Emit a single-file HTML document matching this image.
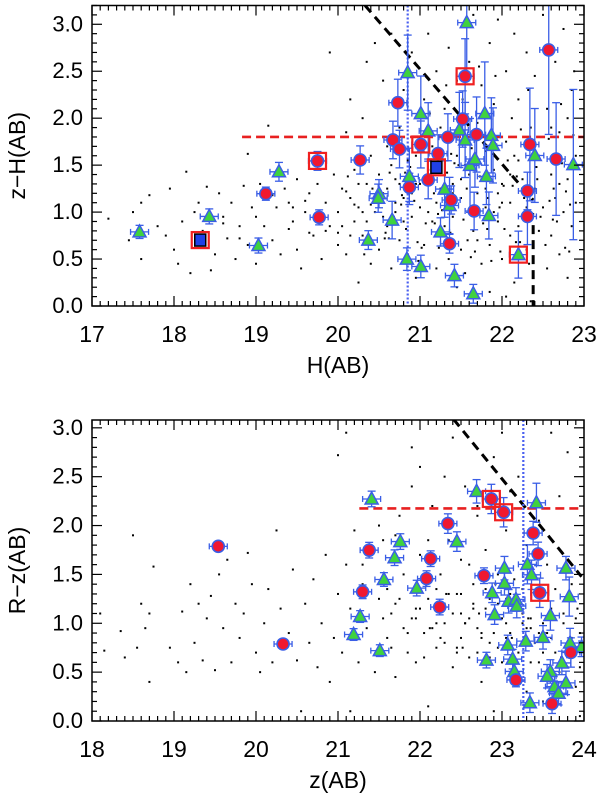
<!DOCTYPE html>
<html><head><meta charset="utf-8"><style>
html,body{margin:0;padding:0;background:#fff;}
svg text{font-family:"Liberation Sans","DejaVu Sans",sans-serif;fill:#000;}
</style></head><body>
<svg id="chart" width="600" height="793" viewBox="0 0 600 793" xmlns="http://www.w3.org/2000/svg">
<g id="top"></g>
<g id="bot"></g>
</svg>
<script>
// ---------- TOP PANEL DATA: H(AB) vs z-H(AB) ----------
const topXTicks = [17,18,19,20,21,22,23];
const topYTicks = [0.0,0.5,1.0,1.5,2.0,2.5,3.0];
const topDotsX = [17.2,17.45,17.5,17.6,17.6,17.7,17.8,17.9,17.95,18.0,18.05,18.1,18.15,18.2,18.25,18.3,18.35,18.4,18.45,18.5,18.55,18.6,18.65,18.7,18.75,18.8,18.85,18.9,18.9,18.95,19.0,19.05,19.1,19.15,19.2,19.25,19.3,19.35,19.4,19.45,19.5,19.5,19.55,19.6,19.65,19.7,19.75,19.8,19.85,19.9,19.9,19.95,20.0,20.0,20.05,20.1,20.1,20.15,20.15,20.2,20.2,20.25,20.25,20.3,20.3,20.35,20.35,20.4,20.4,20.45,20.45,20.5,20.5,20.55,20.55,20.6,20.6,20.65,20.65,20.7,20.7,20.75,20.75,20.8,20.8,20.85,20.85,20.9,20.9,20.95,20.95,21.0,21.0,21.05,21.05,21.1,21.1,21.15,21.15,21.2,21.2,21.25,21.25,21.3,21.3,21.35,21.35,21.4,21.4,21.45,21.45,21.5,21.5,21.55,21.55,21.6,21.6,21.65,21.65,21.7,21.7,21.75,21.75,21.8,21.8,21.85,21.85,21.9,21.9,21.95,21.95,22.0,22.0,22.05,22.05,22.1,22.1,22.15,22.15,22.2,22.2,22.25,22.25,22.3,22.3,22.35,22.35,22.4,22.4,22.45,22.45,22.5,22.5,22.55,22.55,22.6,22.6,22.65,22.65,22.7,22.7,22.75,22.75,22.8,22.8,22.85,22.85,22.9,22.9,20.6,20.7,20.8,20.9,21.0,21.1,21.2,21.3,21.4,21.5,21.6,21.7,21.8,21.9,22.0,22.1,22.2,22.3,20.65,20.75,20.95,21.15,21.35,21.55,21.75,21.95,22.15,20.55,20.45,20.35,20.25,20.15,20.05,21.25,21.45,21.85,22.05,22.6,22.8,22.7,20.62,20.82,21.02,21.22,21.42,21.62,21.82,22.02,22.22,22.42,22.62,22.82,20.4,20.58,20.78,20.98,21.18,21.38,21.58,21.78,21.98,22.18,22.38,22.58,22.78,19.85,19.65,19.45,20.1,20.3];
const topDotsY = [0.93,0.70,1.0,0.50,1.1,1.18,0.85,0.75,1.25,0.60,0.45,0.9,1.43,0.35,1.0,1.1,0.8,1.27,0.38,0.55,1.2,0.95,0.72,1.1,0.5,0.85,1.28,1.62,0.65,1.05,0.45,1.3,0.85,1.92,0.7,1.05,0.55,1.25,1.1,0.9,0.6,1.35,0.4,1.0,1.2,0.75,1.3,0.5,1.1,2.7,0.85,1.4,1.0,0.65,1.25,1.85,0.55,1.15,2.2,0.9,1.45,0.25,1.05,2.0,0.75,1.3,2.6,1.6,0.45,2.8,1.0,1.4,0.6,2.4,1.2,0.85,1.7,2.9,0.4,1.35,1.0,0.7,1.9,2.3,1.15,0.55,1.55,2.7,0.95,1.3,0.3,1.8,1.05,2.2,0.65,1.45,2.9,0.9,1.7,0.4,2.5,1.25,0.75,2.1,1.55,0.5,2.75,1.3,0.95,2.4,1.6,0.6,1.15,2.0,0.35,2.6,1.4,0.8,3.1,1.2,1.95,0.45,2.35,1.05,1.65,2.8,0.65,1.45,2.15,0.9,3.05,1.3,0.5,2.5,1.75,0.75,1.1,2.9,0.25,1.55,2.2,0.95,1.35,2.7,0.6,1.9,0.05,1.25,2.45,0.8,1.6,3.1,1.05,0.4,2.1,1.4,0.75,2.6,1.15,0.55,1.85,2.95,1.0,1.35,0.3,2.3,0.85,1.6,1.1,1.25,1.1,0.9,1.2,1.3,1.0,1.1,0.85,1.2,1.35,1.0,0.7,1.25,1.0,1.1,1.4,0.85,1.05,1.5,1.3,1.6,1.35,1.05,1.5,1.35,1.2,1.6,0.95,1.15,0.9,1.3,0.75,0.85,1.9,0.2,0.15,0.1,1.9,2.0,1.3,0.72,1.42,0.62,0.98,1.52,0.52,0.82,1.28,0.68,1.48,0.92,0.58,1.08,0.78,1.18,0.48,0.88,1.62,0.7,1.72,0.58,1.38,0.98,1.12,1.22,0.8,0.78,1.05,1.22,1.0];
const topDots2X = [20.52,20.57,20.63,20.68,20.72,20.77,20.83,20.88,20.93,20.97,21.03,21.07,21.13,21.17,21.23,21.27,21.33,21.37,21.43,21.47,21.53,21.57,21.63,21.67,21.73,21.77,21.83,21.87,21.93,21.97,22.03,22.07,22.13,22.17,22.23,22.27,22.33,22.37,22.43,22.47,22.53,22.57,22.63,22.67,22.73,22.77,22.83,22.87,20.2,20.0,19.8,19.6,19.4,19.2,19.0,18.8,18.6,20.42,20.32,20.12,21.12,21.32,21.52,21.72,21.92,22.12,22.32,22.52,22.72,22.88];
const topDots2Y = [1.18,0.72,1.42,0.95,1.62,1.08,0.82,1.48,1.12,0.68,1.35,0.88,1.55,1.2,0.62,1.02,1.42,0.78,1.12,1.5,0.92,1.25,1.68,0.58,1.38,0.88,1.15,0.48,1.72,1.05,0.82,1.55,1.28,0.68,1.88,1.15,0.45,1.62,1.35,0.95,0.65,1.78,1.25,0.9,1.52,0.62,1.08,1.82,1.08,0.78,0.95,1.12,0.82,1.18,0.95,0.72,0.88,1.25,0.55,1.38,2.05,2.35,2.2,2.55,2.45,2.0,2.3,2.75,2.15,2.5];
const topCircX = [20.73,20.67,20.75,20.87,21.01,21.10,21.22,21.34,21.38,21.36,21.52,21.55,21.69,21.66,22.31,22.34,22.31,22.57,22.66,19.75,19.12,19.77,20.27];
const topCircY = [2.165,1.768,1.671,1.264,1.72,1.342,1.623,1.797,1.129,0.663,1.991,2.446,1.826,1.012,1.225,1.72,0.954,2.727,1.565,1.545,1.196,0.944,1.555];
const topCircErr = [0.25,0.2,0.2,0.15,0.25,0.2,0.2,0.25,0.15,0.1,0.3,0.4,0.4,0.2,0.2,0.6,0.3,0.9,0.6,0.1,0.07,0.08,0.15];
const topTriX = [17.58,18.43,19.03,19.28,20.50,20.49,20.37,20.66,20.85,20.87,20.84,21.01,21.01,21.10,21.25,21.30,21.36,21.42,21.48,21.55,21.57,21.61,21.67,21.65,21.79,21.81,21.84,21.87,21.89,22.20,22.40,22.87];
const topTriY = [0.789,0.954,0.644,1.429,1.196,1.148,0.702,0.915,2.485,1.38,0.499,0.421,2.049,1.865,0.789,1.245,1.07,0.324,1.875,1.768,3.018,1.497,1.565,0.13,2.049,1.38,0.964,1.817,1.71,0.547,1.603,1.506];
const topTriErr = [0.07,0.08,0.08,0.1,0.15,0.15,0.1,0.2,0.4,0.3,0.12,0.12,0.4,0.3,0.15,0.3,0.3,0.12,0.4,0.4,0.6,0.5,0.3,0.1,0.55,0.3,0.25,0.4,0.4,0.25,0.5,0.8];
const topBlueSqX = [18.32,21.20];
const topBlueSqY = [0.702,1.477];
const topRedBoxX = [18.32,19.75,21.01,21.20,21.55,22.20];
const topRedBoxY = [0.702,1.545,1.72,1.477,2.446,0.547];
const topCutLine = [[20.33,3.2],[22.38,1.128]];
const topCutVertX = 22.38;
const topColorCut = 1.80, topColorCutStart = 18.83;
const topMagLimit = 20.85;

// ---------- BOTTOM PANEL DATA: z(AB) vs R-z(AB) ----------
const botXTicks = [18,19,20,21,22,23,24];
const botYTicks = [0.0,0.5,1.0,1.5,2.0,2.5,3.0];
const botDotsX = [18.1,18.15,18.35,18.4,18.5,18.55,18.6,18.65,18.7,18.7,18.75,18.95,19.05,19.1,19.15,19.2,19.25,19.3,19.35,19.4,19.45,19.5,19.55,19.6,19.65,19.7,19.75,19.8,19.85,19.9,19.95,20.0,20.05,20.1,20.15,20.2,20.25,20.3,20.4,20.45,20.5,20.55,20.6,20.65,20.7,20.75,20.8,20.85,20.9,20.95,21.0,21.0,21.05,21.1,21.1,21.15,21.15,21.2,21.25,21.3,21.35,21.4,21.45,21.5,21.55,21.6,21.65,21.7,21.75,21.8,21.85,21.9,21.9,21.95,22.0,22.0,22.05,22.1,22.1,22.15,22.2,22.25,22.3,22.35,22.4,22.4,22.45,22.5,22.5,22.55,22.6,22.6,22.65,22.7,22.7,22.75,22.8,22.8,22.85,22.9,22.9,22.95,23.0,23.0,23.05,23.05,23.1,23.15,23.2,23.2,23.25,23.3,23.3,23.35,23.4,23.45,23.45,23.5,23.5,23.55,23.6,23.6,23.65,23.7,23.7,23.75,23.8,23.8,23.85,23.9,23.9,23.95,23.95,22.2,22.3,22.5,22.6,22.8,23.0,23.1,23.2,23.3,23.4,23.5,22.0,22.4,22.7,22.9,23.1,23.6,23.8,21.6,21.8,22.2,22.3,22.55,22.75,22.95,23.15,23.35,23.55,23.75,21.7,21.95,22.15,22.45,22.65,22.85,23.05,23.25];
const botDotsY = [1.1,0.72,0.92,0.65,1.9,0.75,1.2,0.95,1.1,0.4,1.58,0.75,0.6,1.12,0.5,1.4,0.8,1.2,0.62,1.05,1.28,0.52,1.5,0.95,1.65,0.6,1.2,0.85,1.1,1.72,1.4,0.7,0.5,1.0,1.35,0.6,1.95,1.15,0.9,1.55,0.62,0.1,1.2,0.8,1.45,0.55,1.0,1.7,0.4,0.85,1.3,2.72,0.7,1.6,2.95,0.1,1.15,1.95,0.6,1.4,0.95,2.3,0.5,1.25,1.85,0.85,1.1,0.45,2.1,1.5,0.7,2.8,1.05,0.6,1.7,2.6,0.9,1.25,0.15,2.2,0.75,1.5,1.0,1.85,0.55,2.9,1.3,0.85,1.1,2.4,1.6,0.65,1.2,0.95,2.1,0.4,1.35,1.75,0.8,1.05,0.1,1.5,2.95,0.6,1.25,1.95,0.9,1.45,0.7,2.5,1.1,0.3,1.8,0.95,1.3,0.6,2.05,1.0,0.2,1.6,0.85,2.95,1.35,0.5,2.3,1.1,0.75,2.75,1.4,0.35,1.05,0.9,0.05,1.0,1.2,1.3,1.05,1.15,1.05,0.75,1.2,0.95,0.8,0.7,1.15,1.1,0.7,0.9,1.3,1.15,0.55,1.35,0.95,1.35,0.8,1.0,0.85,1.2,0.65,1.05,0.9,0.6,1.2,1.05,0.95,0.75,1.15,0.65,0.85,1.0];
const botDots2X = [21.55,21.65,21.75,21.85,21.95,22.05,22.15,22.25,22.35,22.45,22.55,22.65,22.75,22.85,22.95,23.05,23.15,23.25,23.35,23.45,23.55,23.65,23.75,23.85,23.95,22.12,22.32,22.52,22.72,22.92,23.12,23.32,23.52,23.72,23.92,21.3,21.5,21.7,21.9,22.1,22.3,22.5,22.7,22.9,23.1];
const botDots2Y = [1.05,0.75,1.25,0.9,1.15,0.65,1.45,0.85,1.3,0.7,1.0,1.4,0.9,1.25,0.75,1.0,0.55,1.35,0.6,0.9,0.45,0.7,1.0,0.85,0.55,0.95,1.3,0.75,1.1,1.4,0.85,1.05,0.9,0.65,1.15,1.6,2.0,1.9,2.4,1.85,2.5,1.65,2.2,2.7,2.35];
const botCircX = [19.54,20.33,21.30,21.38,22.08,22.13,22.24,22.34,22.78,22.87,23.02,23.17,23.38,23.44,23.46,23.61,23.84];
const botCircY = [1.787,0.788,1.322,1.748,1.457,1.661,1.166,2.02,1.487,2.272,2.136,0.42,1.923,1.71,1.312,0.177,0.701];
const botCircErr = [0.04,0.05,0.07,0.08,0.08,0.08,0.08,0.1,0.08,0.15,0.15,0.07,0.12,0.12,0.15,0.1,0.15];
const botTriX = [21.41,21.19,21.27,21.51,21.56,21.69,21.76,21.96,22.45,22.69,22.81,22.88,22.91,23.03,23.03,23.08,23.07,23.13,23.15,23.17,23.18,23.29,23.34,23.31,23.36,23.42,23.50,23.59,23.59,23.64,23.69,23.73,23.78,23.83,23.78,23.82,23.97,23.55];
const botTriY = [2.272,0.885,1.069,0.72,1.448,1.671,1.836,1.36,1.836,2.35,0.623,1.312,1.089,1.564,1.409,1.225,0.778,0.633,0.507,1.244,1.176,0.817,0.187,1.603,1.496,2.233,0.856,1.079,0.507,0.352,0.284,0.594,0.39,0.798,1.564,1.273,0.759,0.458];
const botTriErr = [0.08,0.06,0.06,0.06,0.07,0.08,0.08,0.08,0.1,0.12,0.08,0.1,0.1,0.12,0.12,0.12,0.1,0.1,0.1,0.12,0.12,0.1,0.1,0.2,0.15,0.2,0.12,0.15,0.12,0.12,0.12,0.12,0.12,0.15,0.12,0.2,0.1,0.12];
const botRedBoxX = [22.87,23.02,23.46];
const botRedBoxY = [2.272,2.136,1.312];
const botCutLine = [[22.41,3.087],[23.97,1.477]];
const botColorCut = 2.175, botColorCutStart = 21.26;
const botMagLimit = 23.26;

// ---------- DRAWING ----------
const NS = 'http://www.w3.org/2000/svg';
function mk(parent, tag, attrs){
  const e = document.createElementNS(NS, tag);
  for (const k in attrs) e.setAttribute(k, attrs[k]);
  parent.appendChild(e);
  return e;
}
const BLUE = '#3a5ee6';

function panel(g, cfg){
  const {x0, x1, yT, yB, xmin, xmax, ymin, ymax} = cfg;
  const X = v => x0 + (v - xmin) / (xmax - xmin) * (x1 - x0);
  const Y = v => yB - (v - ymin) / (ymax - ymin) * (yB - yT);
  const cid = 'clip' + cfg.id;
  const defs = mk(g, 'defs', {});
  const cp = mk(defs, 'clipPath', {id: cid});
  mk(cp, 'rect', {x: x0, y: yT, width: x1 - x0, height: yB - yT});
  const plot = mk(g, 'g', {'clip-path': 'url(#' + cid + ')'});
  
  

  const dg = mk(plot, 'g', {fill: '#000'});
  
  
  function dots(xs, ys){
    xs.forEach((v, i) => {
      const d = mk(dg, 'rect', {x: X(v) - 1, y: Y(ys[i]) - 1, width: 2, height: 2});
      
      
    });
  }
  dots(cfg.dotsX, cfg.dotsY);
  dots(cfg.dots2X, cfg.dots2Y);

  const [p0, p1] = cfg.cut;
  const cl = mk(plot, 'line', {x1: X(p0[0]), y1: Y(p0[1]), x2: X(p1[0]), y2: Y(p1[1]), stroke: '#000', 'stroke-width': 3, 'stroke-dasharray': '9,6'});
  
  
  if (cfg.cutVert != null){
    const vl = mk(plot, 'line', {x1: X(cfg.cutVert), y1: Y(p1[1]) + 25, x2: X(cfg.cutVert), y2: yB, stroke: '#000', 'stroke-width': 3, 'stroke-dasharray': '9,6'});
    
    
  }
  const rl = mk(plot, 'line', {x1: X(cfg.colorStart), y1: Y(cfg.colorCut), x2: x1, y2: Y(cfg.colorCut), stroke: '#e82020', 'stroke-width': 2.6, 'stroke-dasharray': '9,5'});
  
  
  const bl = mk(plot, 'line', {x1: X(cfg.magLimit), y1: yT, x2: X(cfg.magLimit), y2: yB, stroke: '#4a5ff0', 'stroke-width': 2.2, 'stroke-dasharray': '2,2'});
  
  

  function err(x, y, e){
    const eg = mk(plot, 'g', {stroke: BLUE, 'stroke-width': 1.3, fill: 'none'});
    
    
    const cx = X(x), top = Y(y + e), bot = Y(y - e), cy = Y(y);
    mk(eg, 'line', {x1: cx, y1: top, x2: cx, y2: bot});
    mk(eg, 'line', {x1: cx - 4, y1: top, x2: cx + 4, y2: top});
    mk(eg, 'line', {x1: cx - 4, y1: bot, x2: cx + 4, y2: bot});
    mk(eg, 'line', {x1: cx - 9, y1: cy, x2: cx + 9, y2: cy});
    mk(eg, 'line', {x1: cx - 9, y1: cy - 3, x2: cx - 9, y2: cy + 3});
    mk(eg, 'line', {x1: cx + 9, y1: cy - 3, x2: cx + 9, y2: cy + 3});
  }
  cfg.circX.forEach((v, i) => err(v, cfg.circY[i], cfg.circErr[i]));
  cfg.triX.forEach((v, i) => err(v, cfg.triY[i], cfg.triErr[i]));

  cfg.triX.forEach((v, i) => {
    const cx = X(v), cy = Y(cfg.triY[i]);
    const t = mk(plot, 'polygon', {points: `${cx},${cy-7} ${cx-6.5},${cy+5} ${cx+6.5},${cy+5}`, fill: '#3fd23f', stroke: BLUE, 'stroke-width': 1.5});
    
    
  });
  cfg.circX.forEach((v, i) => {
    const c = mk(plot, 'circle', {cx: X(v), cy: Y(cfg.circY[i]), r: 6, fill: '#f01830', stroke: BLUE, 'stroke-width': 1.6});
    
    
  });
  (cfg.bsqX || []).forEach((v, i) => {
    const s = mk(plot, 'rect', {x: X(v) - 5.5, y: Y(cfg.bsqY[i]) - 6, width: 11, height: 12, fill: '#2040e8', stroke: '#000', 'stroke-width': 1.5});
    
    
  });
  cfg.boxX.forEach((v, i) => {
    const s = mk(plot, 'rect', {x: X(v) - 8.5, y: Y(cfg.boxY[i]) - 8, width: 17, height: 16, fill: 'none', stroke: '#f02020', 'stroke-width': 2.2});
    
    
  });

  const fr = mk(g, 'rect', {x: x0, y: yT, width: x1 - x0, height: yB - yT, fill: 'none', stroke: '#000', 'stroke-width': 1.5});
  
  

  const tg = mk(g, 'g', {stroke: '#000', 'stroke-width': 1.2});
  
  
  for (let k = 0; k <= Math.round((xmax - xmin) * 10); k++){
    const v = xmin + k / 10, px = X(v), L = (k % 10 === 0) ? 10 : 5;
    mk(tg, 'line', {x1: px, y1: yB, x2: px, y2: yB - L});
    mk(tg, 'line', {x1: px, y1: yT, x2: px, y2: yT + L});
  }
  for (let k = 0; k <= 32; k++){
    const v = k / 10; if (v < ymin || v > ymax) continue;
    const py = Y(v), L = (k % 5 === 0) ? 10 : 5;
    mk(tg, 'line', {x1: x0, y1: py, x2: x0 + L, y2: py});
    mk(tg, 'line', {x1: x1, y1: py, x2: x1 - L, y2: py});
  }
  cfg.xTicks.forEach(v => {
    const t = mk(g, 'text', {x: X(v), y: cfg.xLabY, 'font-size': 23, 'text-anchor': 'middle'});
    t.textContent = String(v);
    
    
  });
  cfg.yTicks.forEach(v => {
    const t = mk(g, 'text', {x: 83, y: Y(v) + 7, 'font-size': 22, 'text-anchor': 'end'});
    t.textContent = v.toFixed(1);
    
    
  });
  const xt = mk(g, 'text', {x: (x0 + x1) / 2, y: cfg.xTitleY, 'font-size': 23, 'text-anchor': 'middle'});
  xt.textContent = cfg.xTitle;
  
  
  const yc = (yT + yB) / 2;
  const yt = mk(g, 'text', {x: 25, y: yc, 'font-size': 23, 'text-anchor': 'middle', transform: `rotate(-90 25 ${yc})`});
  yt.textContent = cfg.yTitle;
  
  
}

panel(document.getElementById('top'), {
  id: 'T', x0: 92, x1: 584, yT: 5.5, yB: 306, xmin: 17, xmax: 23, ymin: 0, ymax: 3.2,
  dotsX: topDotsX, dotsY: topDotsY, dots2X: topDots2X, dots2Y: topDots2Y,
  circX: topCircX, circY: topCircY, circErr: topCircErr,
  triX: topTriX, triY: topTriY, triErr: topTriErr, bsqX: topBlueSqX, bsqY: topBlueSqY,
  boxX: topRedBoxX, boxY: topRedBoxY, cut: topCutLine, cutVert: topCutVertX,
  colorCut: topColorCut, colorStart: topColorCutStart, magLimit: topMagLimit,
  xTicks: topXTicks, yTicks: topYTicks, xLabY: 342, xTitleY: 373, xTitle: 'H(AB)', yTitle: 'z\u2212H(AB)'
});
panel(document.getElementById('bot'), {
  id: 'B', x0: 92, x1: 584, yT: 420, yB: 721, xmin: 18, xmax: 24, ymin: 0, ymax: 3.08,
  dotsX: botDotsX, dotsY: botDotsY, dots2X: botDots2X, dots2Y: botDots2Y,
  circX: botCircX, circY: botCircY, circErr: botCircErr,
  triX: botTriX, triY: botTriY, triErr: botTriErr, bsqX: [], bsqY: [],
  boxX: botRedBoxX, boxY: botRedBoxY, cut: botCutLine, cutVert: null,
  colorCut: botColorCut, colorStart: botColorCutStart, magLimit: botMagLimit,
  xTicks: botXTicks, yTicks: botYTicks, xLabY: 757, xTitleY: 788, xTitle: 'z(AB)', yTitle: 'R\u2212z(AB)'
});
</script>
</body></html>
